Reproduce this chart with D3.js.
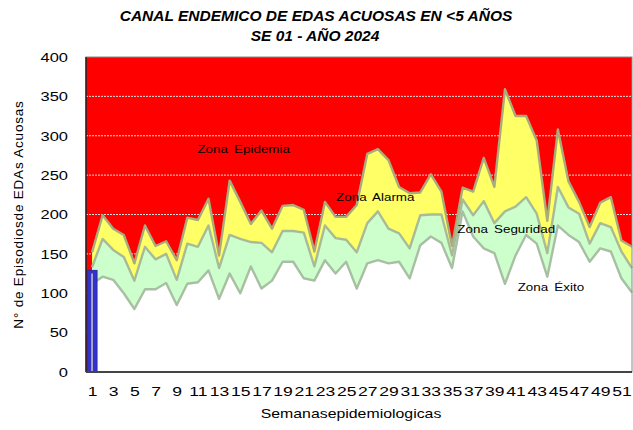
<!DOCTYPE html>
<html>
<head>
<meta charset="utf-8">
<script src="https://cdn.jsdelivr.net/npm/d3@7"></script>
<style>
  body { margin: 0; background: #fff; }
  svg { display: block; font-family: "Liberation Sans", Arial, sans-serif; }
</style>
</head>
<body>
<div id="chart"></div>
<script>
// Canal endemico - EDAs acuosas en <5 anos, SE 01 - 2024

// upper edge of each zone, per epidemiological week 1..52
const exitoTop = [112, 121, 117, 100, 80, 105, 105, 113, 85, 112, 114, 129, 93, 125, 100, 134, 106, 116, 140, 140,
  119, 116, 142, 125, 140, 106, 138, 142, 138, 140, 119, 161, 172, 164, 132, 204, 172, 157, 151, 112,
  148, 174, 163, 121, 186, 174, 165, 140, 157, 153, 119, 101];
const seguridadTop = [133, 169, 155, 146, 116, 159, 143, 150, 117, 163, 159, 186, 132, 174, 169, 165, 164, 152, 179, 179,
  177, 134, 186, 170, 168, 152, 189, 204, 182, 176, 157, 199, 200, 200, 148, 219, 199, 217, 189, 204,
  210, 222, 201, 151, 235, 209, 201, 163, 189, 184, 153, 132];
const alarmaTop = [152, 199, 182, 174, 138, 186, 160, 166, 142, 196, 193, 220, 148, 243, 216, 188, 205, 182, 211, 212,
  206, 153, 216, 197, 197, 212, 277, 283, 269, 235, 227, 228, 251, 229, 160, 234, 229, 272, 235, 359,
  325, 325, 294, 192, 308, 242, 216, 184, 215, 222, 167, 159];
// casos notificados 2024
const casos = [129];

const weeks = exitoTop.map((d, i) => i + 1);
const weekTicks = weeks.filter(w => w % 2 === 1);
const yTicks = [0, 50, 100, 150, 200, 250, 300, 350, 400];

const zoneLabels = [
  { text: 'Zona Epidemia', week: 10.95, value: 278 },
  { text: 'Zona Alarma', week: 24.05, value: 217 },
  { text: 'Zona Seguridad', week: 35.5, value: 176 },
  { text: 'Zona Éxito', week: 41.2, value: 103 }
];

const W = 633, H = 430;
const margin = { top: 57, right: 1, bottom: 58, left: 86 };
const width = W - margin.left - margin.right;
const height = H - margin.top - margin.bottom;
const stretch = 'scale(1.22,1)'; // the source chart's text is drawn wide

const svg = d3.select('#chart').append('svg')
  .attr('width', W)
  .attr('height', H);

const x = d3.scaleLinear().domain([0.43, 52]).range([0, width]);
const y = d3.scaleLinear().domain([0, 400]).range([height, 0]);

const g = svg.append('g').attr('transform', `translate(${margin.left},${margin.top})`);

// red background = epidemic zone
g.append('rect')
  .attr('width', width)
  .attr('height', height)
  .attr('fill', '#ff0000');

// gridlines
g.append('g')
  .selectAll('line')
  .data(yTicks.filter(t => t > 0 && t < 400))
  .enter()
  .append('line')
  .attr('x1', 0)
  .attr('x2', width)
  .attr('y1', d => y(d))
  .attr('y2', d => y(d))
  .attr('stroke', '#e8dcdc')
  .attr('stroke-width', 1)
  .attr('stroke-dasharray', '2,1');

// zones, drawn from top to bottom so each covers the next
const zones = [
  { values: alarmaTop, fill: '#ffff66', stroke: '#a9ab7c' },
  { values: seguridadTop, fill: '#ccffcc', stroke: '#a8bb98' },
  { values: exitoTop, fill: '#ffffff', stroke: '#a9bfa4' }
];
const area = d3.area()
  .x((d, i) => x(weeks[i]))
  .y0(y(0))
  .y1(d => y(d));
const line = d3.line()
  .x((d, i) => x(weeks[i]))
  .y(d => y(d));

zones.forEach(z => {
  g.append('path')
    .datum(z.values)
    .attr('d', area)
    .attr('fill', z.fill);
});
zones.forEach(z => {
  g.append('path')
    .datum(z.values)
    .attr('d', line)
    .attr('fill', 'none')
    .attr('stroke', z.stroke)
    .attr('stroke-width', 2.4)
    .attr('stroke-linejoin', 'round');
});

// bar of 2024 cases
const barW = 10;
g.selectAll('.bar')
  .data(casos)
  .enter()
  .append('rect')
  .attr('class', 'bar')
  .attr('x', (d, i) => x(weeks[i]) - barW / 2)
  .attr('y', d => y(d))
  .attr('width', barW)
  .attr('height', d => y(0) - y(d))
  .attr('fill', '#3333cc')
  .attr('stroke', '#2a2ab0')
  .attr('stroke-width', 1);
g.selectAll('.barline')
  .data(casos)
  .enter()
  .append('line')
  .attr('x1', (d, i) => x(weeks[i]))
  .attr('x2', (d, i) => x(weeks[i]))
  .attr('y1', d => y(d) + 3)
  .attr('y2', y(0))
  .attr('stroke', '#c8c8c8')
  .attr('stroke-width', 1.5);

// frame
g.append('rect')
  .attr('width', width)
  .attr('height', height)
  .attr('fill', 'none')
  .attr('stroke', '#8a8a8a')
  .attr('stroke-width', 1);
g.append('line')
  .attr('x1', 0).attr('x2', 0)
  .attr('y1', 0).attr('y2', height)
  .attr('stroke', '#000')
  .attr('stroke-width', 1.2);
g.append('line')
  .attr('x1', 0).attr('x2', width)
  .attr('y1', height).attr('y2', height)
  .attr('stroke', '#444')
  .attr('stroke-width', 2);

// zone labels
g.selectAll('.zone')
  .data(zoneLabels)
  .enter()
  .append('text')
  .attr('transform', d => `translate(${x(d.week)},${y(d.value)}) ${stretch}`)
  .attr('fill', '#000')
  .style('font-size', '11px')
  .style('word-spacing', '2px')
  .text(d => d.text);

// Y axis
const yAxis = g.append('g')
  .call(d3.axisLeft(y).tickValues(yTicks).tickSize(0).tickPadding(0));
yAxis.select('.domain').remove();
yAxis.selectAll('text')
  .attr('transform', `translate(-18,0) ${stretch}`)
  .style('font-size', '13.5px')
  .style('font-family', '"Liberation Sans", Arial, sans-serif')
  .attr('fill', '#000');

// X axis
const xAxis = g.append('g')
  .attr('transform', `translate(0,${height})`)
  .call(d3.axisBottom(x).tickValues(weekTicks).tickFormat(d3.format('d')).tickSize(0).tickPadding(14));
xAxis.select('.domain').remove();
xAxis.selectAll('text')
  .attr('transform', 'scale(1.3,1)')
  .style('font-size', '13.5px')
  .style('font-family', '"Liberation Sans", Arial, sans-serif')
  .attr('fill', '#000');

// axis titles
svg.append('text')
  .attr('transform', `translate(351,418) ${stretch}`)
  .attr('text-anchor', 'middle')
  .style('font-size', '13px')
  .text('Semanasepidemiologicas');
svg.append('text')
  .attr('transform', `translate(23,${margin.top + height / 2}) rotate(-90)`)
  .attr('text-anchor', 'middle')
  .style('font-size', '13.5px')
  .style('letter-spacing', '0.8px')
  .text('N° de Episodiosde EDAs Acuosas');

// title
const title = svg.append('g')
  .attr('text-anchor', 'middle')
  .style('font-size', '15.5px')
  .style('font-weight', 'bold')
  .style('font-style', 'italic');
title.append('text').attr('x', 316).attr('y', 21).text('CANAL ENDEMICO DE EDAS ACUOSAS EN <5 AÑOS');
title.append('text').attr('x', 315).attr('y', 41).text('SE 01 - AÑO 2024');
</script>
</body>
</html>
